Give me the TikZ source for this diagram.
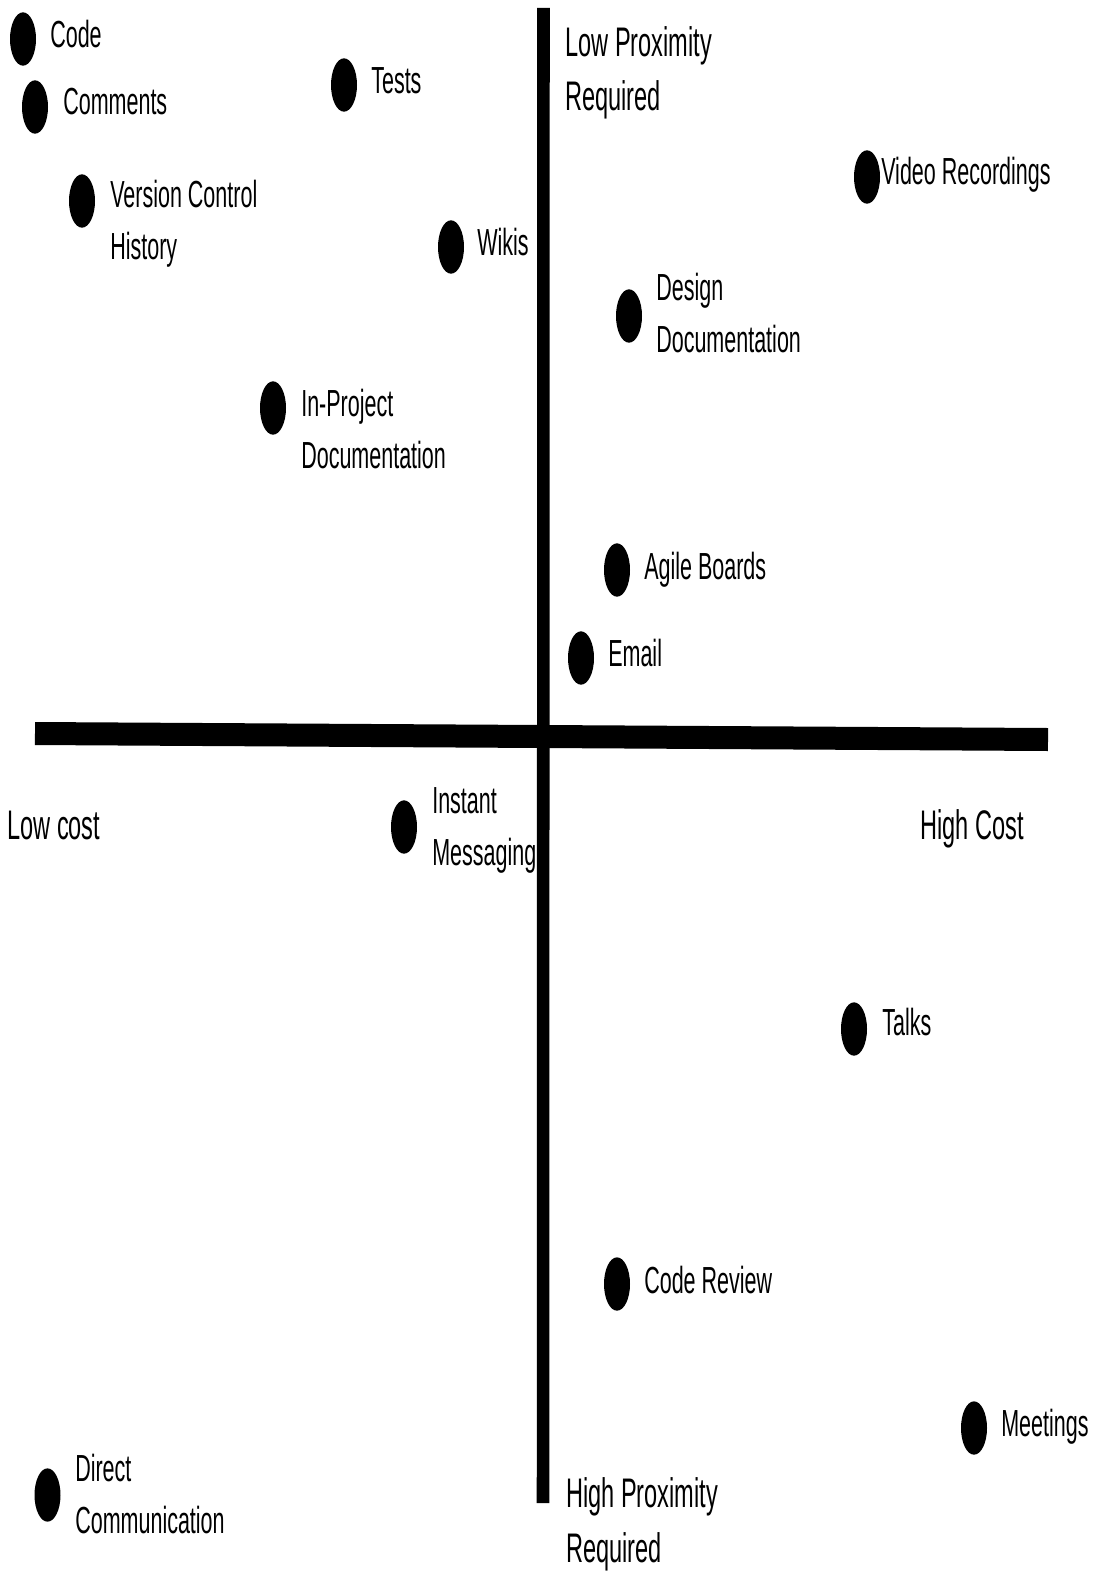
\documentclass[tikz,border=0pt]{standalone}
\usepackage{fontspec}
\setmainfont[FakeStretch=0.57]{Liberation Sans}
\usetikzlibrary{shapes.geometric}

\tikzset{
  dot/.style={ellipse,fill=black,inner sep=0pt,minimum width=19.5pt,minimum height=40pt},
  lbl/.style={anchor=base west,inner sep=0pt,align=left,font=\fontsize{28.3}{38.3}\selectfont},
  axislbl/.style={lbl,font=\fontsize{31}{41}\selectfont},
  axis/.style={line width=#1}
}

\begin{document}
\begin{tikzpicture}[x=0.75pt,y=-0.75pt]
  \useasboundingbox (0,0) rectangle (1095,1573);
  % axes
  \coordinate (hl) at (35,733.5);
  \coordinate (hr) at (1048,739.5);
  \coordinate (vt) at (543.5,8);
  \coordinate (vb) at (543,1503);
  \draw[axis=17.25pt] (hl) -- (hr);
  \draw[axis=9.4pt] (vt) -- (vb);
  % axis labels (base = last line)
  \node[axislbl] (lowprox) at (565,111) {Low Proximity\\Required};
  \node[axislbl] (highprox) at (566,1562) {High Proximity\\Required};
  \node[axislbl] (lowcost) at (7,839) {Low cost};
  \node[axislbl] (highcost) at (920,839) {High Cost};
  % low proximity
  \node[dot] (code) at (23,39) {};
  \node[lbl] (codel) at (50,48) {Code};
  \node[dot] (comm) at (35,107) {};
  \node[lbl] (comml) at (63,115) {Comments};
  \node[dot] (vch) at (82,201) {};
  \node[lbl] (vchl) at (110,259) {Version Control\\History};
  \node[dot] (tests) at (344,85) {};
  \node[lbl] (testsl) at (371,94) {Tests};
  \node[dot] (wikis) at (451,247) {};
  \node[lbl] (wikisl) at (477,255) {Wikis};
  \node[dot] (ipd) at (273,408) {};
  \node[lbl] (ipdl) at (301,468) {In-Project\\Documentation};
  \node[dot] (video) at (867,177) {};
  \node[lbl] (videol) at (881,185) {Video Recordings};
  \node[dot] (design) at (629,316) {};
  \node[lbl] (designl) at (656,352) {Design\\Documentation};
  \node[dot] (agile) at (617,570) {};
  \node[lbl] (agilel) at (644,579) {Agile Boards};
  \node[dot] (email) at (581,658) {};
  \node[lbl] (emaill) at (608,666) {Email};
  % high proximity
  \node[dot] (im) at (404,827) {};
  \node[lbl] (iml) at (432,865) {Instant\\Messaging};
  \node[dot] (talks) at (854,1029) {};
  \node[lbl] (talksl) at (882,1035) {Talks};
  \node[dot] (review) at (617,1284) {};
  \node[lbl] (reviewl) at (644,1293) {Code Review};
  \node[dot] (meet) at (974,1428) {};
  \node[lbl] (meetl) at (1001,1436) {Meetings};
  \node[dot] (direct) at (47.5,1495) {};
  \node[lbl] (directl) at (75,1533) {Direct\\Communication};
\end{tikzpicture}
\end{document}
